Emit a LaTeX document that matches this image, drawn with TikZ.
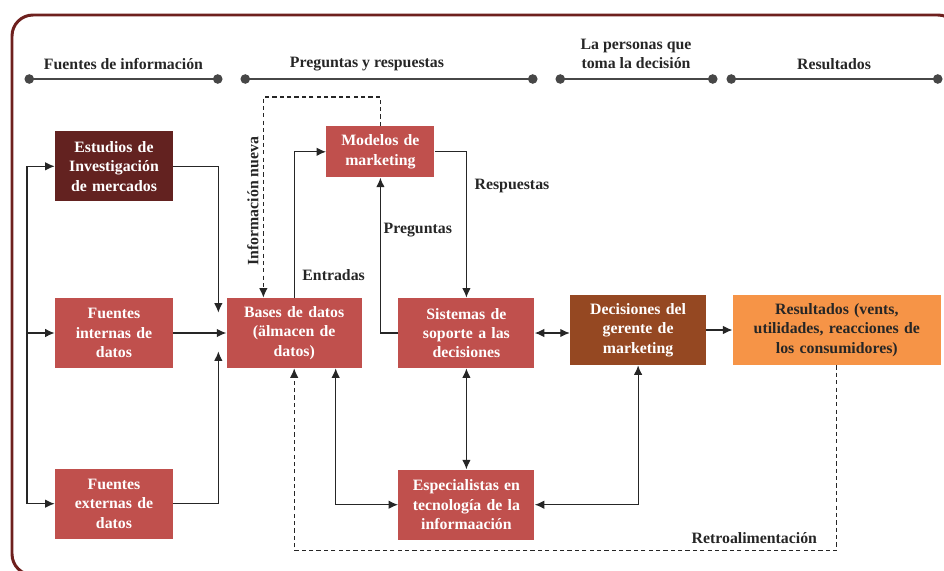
\documentclass[tikz,border=0pt]{standalone}
\usepackage{fontspec}
\setmainfont{Liberation Serif}
\usetikzlibrary{arrows.meta,positioning}
\definecolor{boxred}{RGB}{192,80,77}
\definecolor{boxmaroon}{RGB}{99,34,32}
\definecolor{boxbrown}{RGB}{149,72,34}
\definecolor{boxorange}{RGB}{246,148,71}
\definecolor{framered}{RGB}{110,32,30}
\definecolor{inkgray}{RGB}{38,38,38}
\tikzset{
 infobox/.style={
 rectangle,
 fill=boxred,
 text=white,
 align=center,
 inner sep=0pt,
 text width=2.72cm,
 minimum height=1.4cm,
 font=\fontsize{9}{11}\selectfont\bfseries
 },
 srcbox/.style={infobox, text width=2.36cm},
 note/.style={font=\fontsize{9}{11}\selectfont\bfseries, text=inkgray},
 flowline/.style={line width=0.7pt, draw=inkgray},
 flowarrow/.style={flowline, -{Latex[length=1.9mm, width=1.7mm]}},
 bothways/.style={flowline, {Latex[length=1.9mm, width=1.7mm]}-{Latex[length=1.9mm, width=1.7mm]}},
 feedback/.style={flowarrow, dash pattern=on 2.4pt off 1.8pt},
 headline/.style={line width=0.8pt, draw=inkgray!85, {Circle[length=1.9mm]}-{Circle[length=1.9mm]}}
}

\begin{document}
\begin{tikzpicture}
 \useasboundingbox (0,0) rectangle (18.88,-11.4);
 \clip (0,0) rectangle (18.88,-11.4);
 % outer frame, it runs off the page on the right and at the bottom
 \draw[framered, line width=1.7pt, rounded corners=4.2mm] (0.24,-0.30) rectangle (19.18,-11.5);

 % column headings
 \foreach \a/\b in {0.49/4.45, 4.81/10.75, 11.11/14.35, 14.53/18.85}
 \draw[headline] (\a,-1.58) -- (\b,-1.58);
 \node[note] (hfuentes) at (2.47,-1.28) {Fuentes de información};
 \node[note] (hpreguntas) at (7.34,-1.28) {Preguntas y respuestas};
 \node[note, align=center] (hpersonas) at (12.72,-1.08) {La personas que\\toma la decisión};
 \node[note] (hresultados) at (16.68,-1.28) {Resultados};

 \node[srcbox] (internas) at (2.28,-6.66) {Fuentes\\internas de\\datos};
 \node[srcbox, fill=boxmaroon, above=1.92cm of internas] (estudios) {Estudios de\\Investigación\\de mercados};
 \node[srcbox, below=2cm of internas] (externas) {Fuentes\\externas de\\datos};
 \node[infobox, text width=2.70cm, right=1.06cm of internas] (bases) {Bases de datos\\(älmacen de\\datos)};
 \node[infobox, right=0.72cm of bases] (sistemas) {Sistemas de\\soporte a las\\decisiones};
 \node[infobox, fill=boxbrown, right=0.70cm of sistemas, yshift=0.06cm] (decisiones) {Decisiones del\\gerente de\\marketing};
 \node[infobox, fill=boxorange, text=inkgray, text width=4.16cm, right=0.52cm of decisiones] (resultados) {Resultados (vents,\\utilidades, reacciones de\\los consumidores)};
 \node[infobox, below=2.02cm of sistemas] (especialistas) {Especialistas en\\tecnología de la\\informaación};
 \node[infobox, text width=2.16cm, minimum height=1.02cm, above=2.4cm of sistemas, xshift=-1.72cm] (modelos) {Modelos de\\marketing};

 % sources feed the data bases
 \coordinate (bus) at (0.54,0);
 \draw[flowline] (bus |- estudios.west) -- (bus |- externas.west);
 \draw[flowarrow] (bus |- estudios.west) -- (estudios.west);
 \draw[flowarrow] (bus |- internas.west) -- (internas.west);
 \draw[flowarrow] (bus |- externas.west) -- (externas.west);
 \draw[flowarrow] (estudios.east) -| ([xshift=-1.6mm, yshift=-3mm]bases.north west);
 \draw[flowarrow] (internas.east) -- (bases.west);
 \draw[flowarrow] (externas.east) -| ([xshift=-1.6mm, yshift=3.4mm]bases.south west);

 % questions and answers loop
 \draw[flowarrow] (bases.north) |- node[note, pos=0.076, right, xshift=1pt] (lblentradas) {Entradas} (modelos.west);
 \draw[feedback] (modelos.north) -- ++(0,0.58) -| ([xshift=7.4mm]bases.north west);
 \node[note, rotate=90] (lblnueva) at (5.06,-4.02) {Información nueva};
 \draw[flowarrow] (modelos.east) -| node[note, pos=0.617, right, xshift=1pt] (lblrespuestas) {Respuestas} (sistemas.north);
 \draw[flowarrow] (sistemas.west) -| node[note, pos=0.83, right, inner sep=1.5pt] (lblpreguntas) {Preguntas} (modelos.south);

 \draw[bothways] (sistemas.east) -- (sistemas.east -| decisiones.west);
 \draw[flowarrow] (decisiones.east) -- (resultados.west);
 \draw[bothways] (sistemas) -- (especialistas);
 \draw[bothways] ([xshift=8.3mm]bases.south) |- (especialistas.west);
 \draw[bothways] (decisiones.south) |- (especialistas.east);
 \draw[feedback] (resultados.south) -- ++(0,-3.7) -| node[note, pos=0.076, above] (lblretro) {Retroalimentación} (bases.south);
\end{tikzpicture}
\end{document}
